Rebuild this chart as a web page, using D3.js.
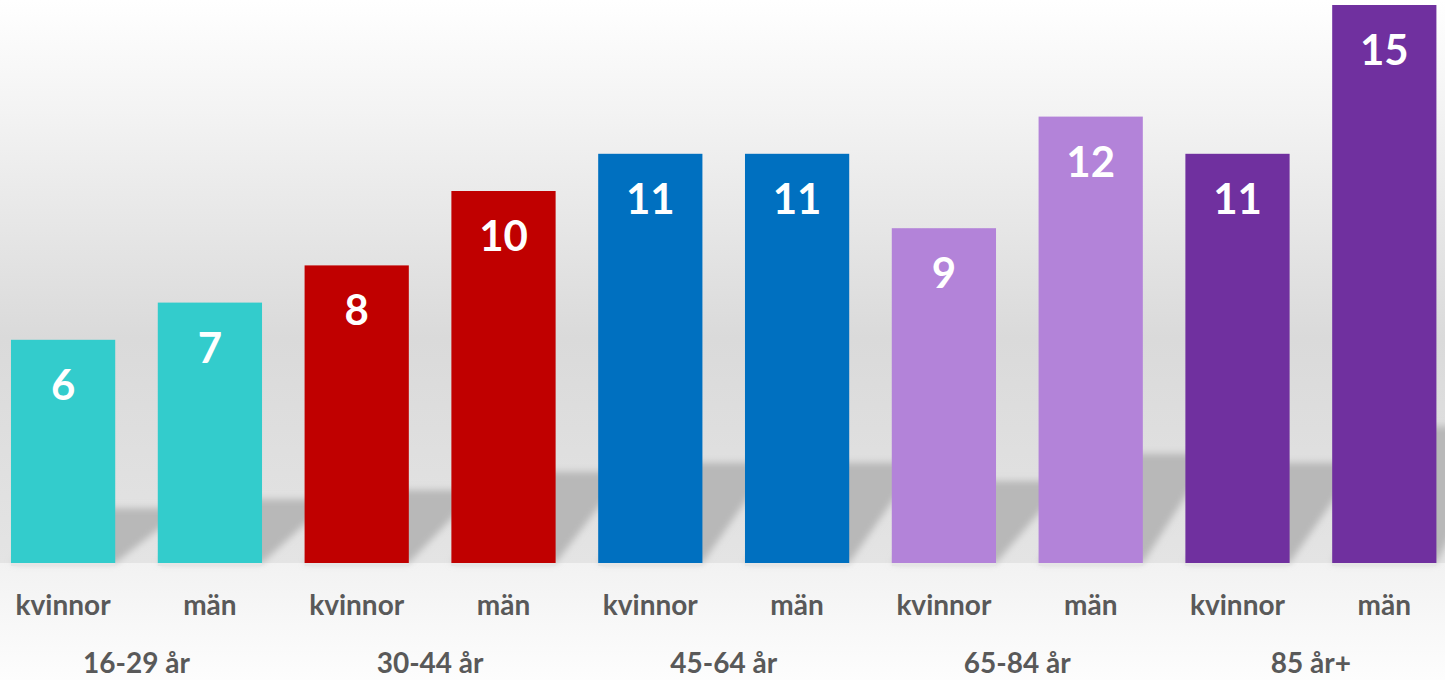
<!DOCTYPE html>
<html>
<head>
<meta charset="utf-8">
<script src="https://cdn.jsdelivr.net/npm/d3@7/dist/d3.min.js"></script>
<style>
  html, body { margin: 0; padding: 0; background: #fff; }
  svg { display: block; }
</style>
</head>
<body>
<svg id="chart"></svg>
<script>
// data
const groups = ["16-29 år", "30-44 år", "45-64 år", "65-84 år", "85 år+"];
const sexes = ["kvinnor", "män"];
const values = [6, 7, 8, 10, 11, 11, 9, 12, 11, 15];
const groupColors = ["#33cccc", "#c00000", "#0070c0", "#b383d9", "#70309f"];

const W = 1445, H = 680;
const base = 563;

const bars = values.map((v, i) => ({
    id: i,
    group: groups[Math.floor(i / 2)],
    sex: sexes[i % 2],
    value: v,
    color: groupColors[Math.floor(i / 2)]
}));

const svg = d3.select("#chart").attr("width", W).attr("height", H);
const defs = svg.append("defs");

// background: wall + floor gradients
const wall = defs.append("linearGradient").attr("id", "wall")
    .attr("x1", 0).attr("y1", 0).attr("x2", 0).attr("y2", 1);
wall.append("stop").attr("offset", "0%").attr("stop-color", "#ffffff");
wall.append("stop").attr("offset", "20%").attr("stop-color", "#f3f3f3");
wall.append("stop").attr("offset", "60%").attr("stop-color", "#dadada");
wall.append("stop").attr("offset", "100%").attr("stop-color", "#e4e4e4");

const floor = defs.append("linearGradient").attr("id", "floor")
    .attr("x1", 0).attr("y1", 0).attr("x2", 0).attr("y2", 1);
floor.append("stop").attr("offset", "0%").attr("stop-color", "#f2f2f2");
floor.append("stop").attr("offset", "100%").attr("stop-color", "#fdfdfd");

defs.append("filter").attr("id", "blur")
    .attr("x", "-20%").attr("y", "-20%").attr("width", "140%").attr("height", "140%")
    .append("feGaussianBlur").attr("stdDeviation", 3.5);

svg.append("rect").attr("x", 0).attr("y", 0).attr("width", W).attr("height", base)
    .attr("fill", "url(#wall)");
svg.append("rect").attr("x", 0).attr("y", base).attr("width", W).attr("height", H - base)
    .attr("fill", "url(#floor)");

// scales
const x = d3.scaleBand()
    .domain(bars.map(d => d.id))
    .range([-10.3, 1457.7])
    .paddingInner(0.29)
    .paddingOuter(0.145);

const y = d3.scaleLinear().domain([0, 15]).range([base, 5]);

// perspective shadows
const skewX = 70, shadowRatio = 0.245;
svg.append("g").attr("class", "shadows").attr("filter", "url(#blur)")
    .selectAll("path").data(bars).join("path")
    .attr("d", d => {
        const x0 = x(d.id), x1 = x0 + x.bandwidth();
        const h = (base - y(d.value)) * shadowRatio;
        return `M${x0},${base}L${x1},${base}L${x1 + skewX},${base - h}L${x0 + skewX},${base - h}Z`;
    })
    .attr("fill", "#b8b8b8");

// thin ground shadow under bars
svg.append("g").selectAll("rect").data(bars).join("rect")
    .attr("x", d => x(d.id)).attr("y", base)
    .attr("width", x.bandwidth()).attr("height", 3)
    .attr("fill", "#e6e6e6");

// bars
svg.append("g").attr("class", "bars")
    .selectAll("rect").data(bars).join("rect")
    .attr("x", d => x(d.id))
    .attr("y", d => y(d.value))
    .attr("width", x.bandwidth())
    .attr("height", d => base - y(d.value))
    .attr("fill", d => d.color);

// value labels
svg.append("g").selectAll("text").data(bars).join("text")
    .attr("x", d => x(d.id) + x.bandwidth() / 2)
    .attr("y", d => y(d.value) + 60)
    .attr("text-anchor", "middle")
    .attr("fill", "#ffffff")
    .attr("font-family", "Lato, 'Open Sans', sans-serif")
    .attr("font-weight", 700)
    .attr("font-size", "42px")
    .text(d => d.value);

// sex labels
svg.append("g").selectAll("text").data(bars).join("text")
    .attr("x", d => x(d.id) + x.bandwidth() / 2)
    .attr("y", 615)
    .attr("text-anchor", "middle")
    .attr("fill", "#595959")
    .attr("font-family", "Lato, 'Open Sans', sans-serif")
    .attr("font-weight", 700)
    .attr("font-size", "28px")
    .text(d => d.sex);

// group labels
svg.append("g").selectAll("text").data(groups).join("text")
    .attr("x", (g, i) => (x(i * 2) + x(i * 2 + 1) + x.bandwidth()) / 2)
    .attr("y", 673)
    .attr("text-anchor", "middle")
    .attr("fill", "#595959")
    .attr("font-family", "Lato, 'Open Sans', sans-serif")
    .attr("font-weight", 700)
    .attr("font-size", "28px")
    .text(g => g);
</script>
</body>
</html>
